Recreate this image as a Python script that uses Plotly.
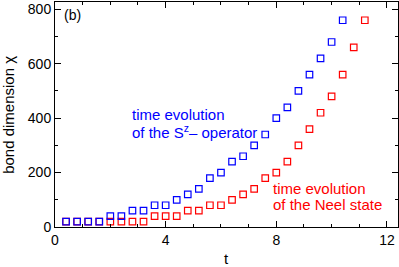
import plotly.graph_objects as go

t_sz = [0.4, 0.8, 1.2, 1.6, 2.0, 2.4, 2.8, 3.2, 3.6, 4.0, 4.4, 4.8, 5.2, 5.6, 6.0, 6.4,
        6.8, 7.2, 7.6, 8.0, 8.4, 8.8, 9.2, 9.6, 10.0, 10.4]
chi_sz = [20, 20, 20, 20, 40, 40, 60, 60, 80, 80, 100, 120, 140, 180, 200, 240,
          260, 300, 340, 400, 440, 500, 560, 620, 680, 760]

t_neel = [0.4, 0.8, 1.2, 1.6, 2.0, 2.4, 2.8, 3.2, 3.6, 4.0, 4.4, 4.8, 5.2, 5.6, 6.0, 6.4,
          6.8, 7.2, 7.6, 8.0, 8.4, 8.8, 9.2, 9.6, 10.0, 10.4, 10.8, 11.2]
chi_neel = [20, 20, 20, 20, 20, 20, 20, 20, 40, 40, 40, 60, 60, 80, 80, 100,
            120, 140, 180, 200, 240, 300, 360, 420, 480, 560, 660, 760]

x_ticks = [0, 4, 8, 12]
y_ticks = [0, 200, 400, 600, 800]

FONT = "Liberation Sans, Arial, sans-serif"

fig = go.Figure()
fig.add_trace(go.Scatter(x=t_neel, y=chi_neel, mode="markers",
                         marker=dict(symbol="square-open", size=6.5, color="#ff0000",
                                     line=dict(width=1.2, color="#ff0000")),
                         showlegend=False, hoverinfo="skip"))
fig.add_trace(go.Scatter(x=t_sz, y=chi_sz, mode="markers",
                         marker=dict(symbol="square-open", size=6.5, color="#0000ff",
                                     line=dict(width=1.2, color="#0000ff")),
                         showlegend=False, hoverinfo="skip"))

axis_common = dict(showgrid=False, zeroline=False, showline=True, linecolor="black",
                   linewidth=1, mirror="allticks", ticks="inside", ticklen=6,
                   tickcolor="black", tickwidth=1, automargin=False,
                   tickfont=dict(family=FONT, size=14, color="black"))

fig.update_xaxes(range=[0, 12.4], tickvals=x_ticks, ticktext=[str(v) for v in x_ticks],
                 minor=dict(dtick=1, ticks="inside", ticklen=3, tickcolor="black"),
                 **axis_common)
fig.update_yaxes(range=[0, 827], tickvals=y_ticks, ticktext=[str(v) for v in y_ticks],
                 minor=dict(dtick=100, ticks="inside", ticklen=3, tickcolor="black"),
                 **axis_common)

fig.add_annotation(x=0.5, y=-0.14, xref="paper", yref="paper", text="t", showarrow=False,
                   xanchor="center", yanchor="middle", font=dict(family=FONT, size=15, color="black"))
fig.add_annotation(x=-0.136, y=0.5, xref="paper", yref="paper", text="bond dimension χ",
                   showarrow=False, textangle=-90, xanchor="center", yanchor="middle",
                   font=dict(family=FONT, size=15, color="black"))

fig.add_annotation(x=0.02, y=0.985, xref="paper", yref="paper", text="(b)", showarrow=False,
                   xanchor="left", yanchor="top", font=dict(family=FONT, size=14, color="black"))

blue_lines = [("time evolution", 0.498), ("of the S<sup>z</sup>– operator", 0.424)]
for txt, yy in blue_lines:
    fig.add_annotation(x=0.219, y=yy, xref="paper", yref="paper", text=txt, showarrow=False,
                       xanchor="left", yanchor="middle", align="left",
                       font=dict(family=FONT, size=15, color="#0000ff"))
red_lines = [("time evolution", 0.172), ("of the Neel state", 0.101)]
for txt, yy in red_lines:
    fig.add_annotation(x=0.629, y=yy, xref="paper", yref="paper", text=txt, showarrow=False,
                       xanchor="left", yanchor="middle", align="left",
                       font=dict(family=FONT, size=15, color="#ff0000"))

fig.update_layout(width=399, height=267, margin=dict(l=55, r=1, t=2, b=40, autoexpand=False),
                  plot_bgcolor="white", paper_bgcolor="white", hovermode=False,
                  font=dict(family=FONT, size=14, color="black"))

fig.write_html("out.html", config={"displayModeBar": False},
               post_script="document.body.style.margin='0';")
